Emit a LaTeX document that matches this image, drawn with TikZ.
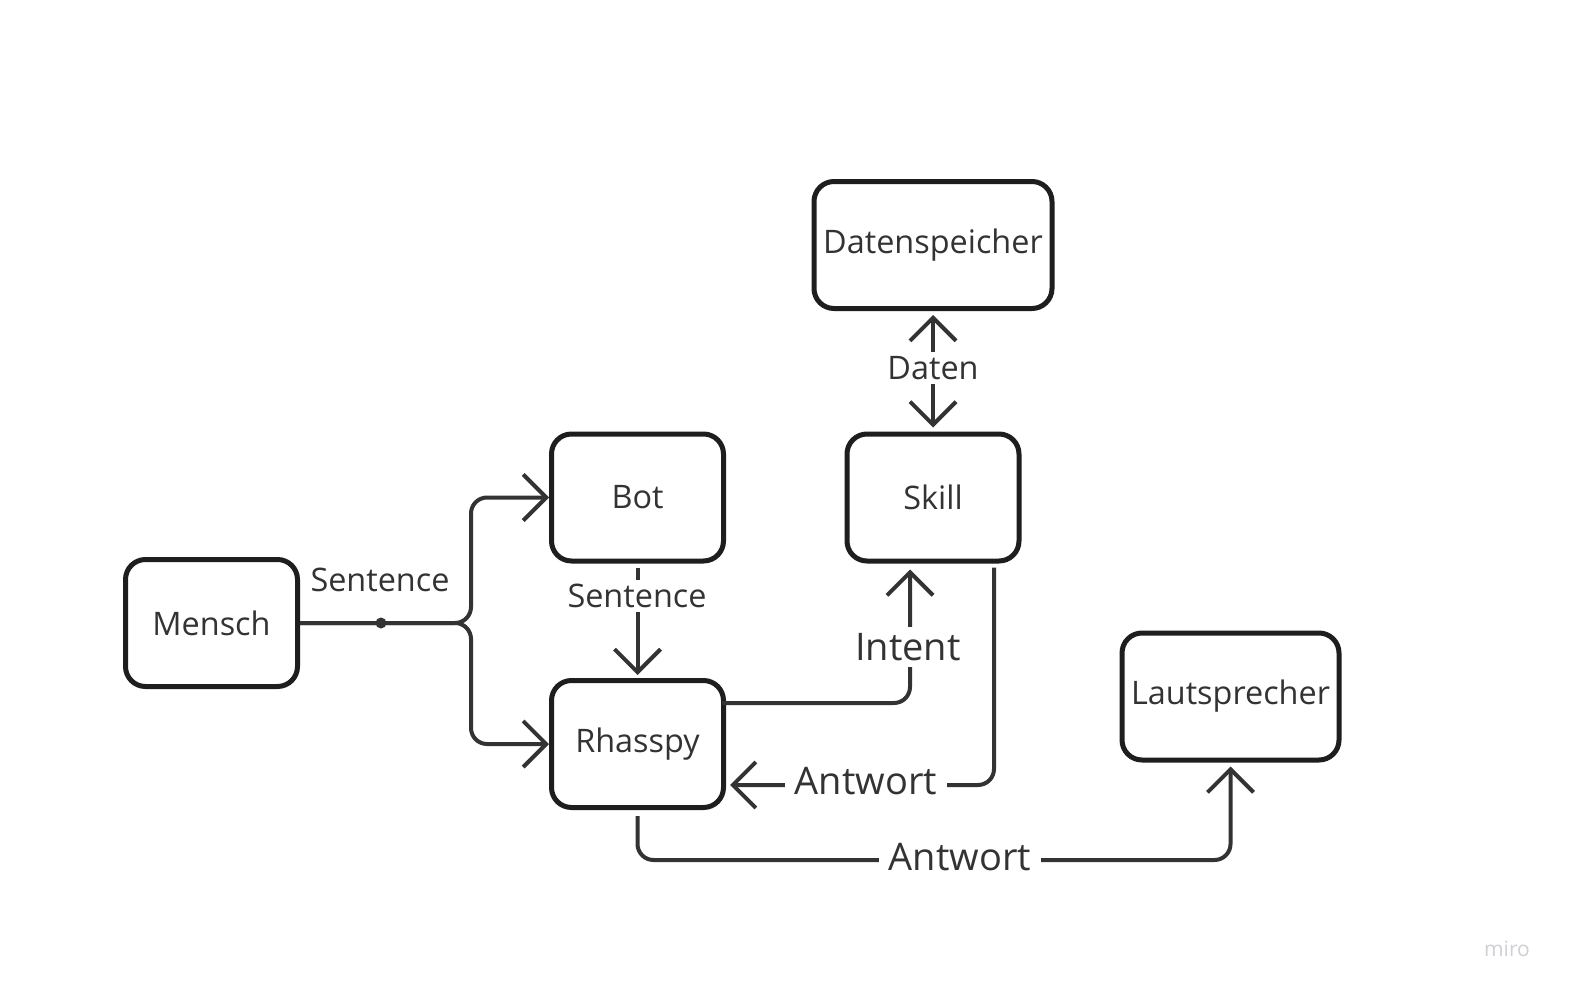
\documentclass[tikz,border=0pt]{standalone}
\usepackage{fontspec}
\setmainfont{Open Sans}
\usetikzlibrary{arrows.meta}
\definecolor{boxc}{HTML}{1E1E1E}
\definecolor{linec}{HTML}{333333}
\definecolor{txtc}{HTML}{333333}
\definecolor{miroc}{HTML}{CDD0D6}
\begin{document}
\begin{tikzpicture}[x=0.5pt,y=-0.5pt,
  box/.style={draw=boxc, line width=2.5pt, rounded corners=10pt, minimum width=86pt, minimum height=63.5pt,
    font=\fontsize{16.2}{19}\selectfont, text=txtc, inner sep=0pt},
  tipb/.tip={Straight Barb[length=11.5pt,width=23pt,line cap=butt,line join=miter]},
  conn/.style={draw=linec, line width=2pt, rounded corners=8pt, -tipb},
  lbl/.style={font=\fontsize{16.2}{19}\selectfont, text=txtc, fill=white, inner sep=2pt},
  biglbl/.style={font=\fontsize{19}{23}\selectfont, text=txtc, fill=white, inner ysep=3pt, inner xsep=5pt}]
\useasboundingbox (0,0) rectangle (1569,995);
\fill[white] (0,0) rectangle (1569,995);

\node[box] (mensch) at (211.5,623) {Mensch};
\node[box] (bot) at (637.5,497.5) {Bot};
\node[box] (rhasspy) at (637.5,744) {Rhasspy};
\node[box] (skill) at (933,497.5) {Skill};
\node[box, minimum width=119pt] (daten) at (933,245) {Datenspeicher};
\node[box, minimum width=108.5pt] (laut) at (1230.5,696.5) {Lautsprecher};

% Mensch fork
\coordinate (fork) at (471,623);
\draw[conn] (mensch.east) -- (fork) |- (bot.west);
\draw[conn] (mensch.east) -- (fork) |- (rhasspy.west);
\node[circle, fill=linec, inner sep=0pt, minimum size=5.5pt] (dot) at (381,623) {};
\node[lbl, fill=none] (s1) at (380,580) {Sentence};

% Bot -> Rhasspy
\draw[conn, shorten <=2pt, shorten >=1.5pt] (bot.south) -- (rhasspy.north);
\node[lbl] (s2) at (637,596) {Sentence};

% Rhasspy -> Skill (Intent)
\draw[conn, shorten >=3pt] ([yshift=20.5pt,xshift=-2pt]rhasspy.east) -| ([xshift=-11.5pt]skill.south);
\node[biglbl, inner xsep=3pt] (intent) at (908,647) {Intent};

% Skill -> Rhasspy (Antwort)
\draw[conn, shorten <=2pt, shorten >=2pt] ([xshift=30.5pt]skill.south) |- ([yshift=-20.5pt]rhasspy.east);
\node[biglbl] (antw1) at (866,781) {Antwort};

% Rhasspy -> Lautsprecher (Antwort)
\coordinate (ab) at (960,860);
\draw[conn, shorten <=3pt, shorten >=2pt] (rhasspy.south) |- (ab) -| (laut.south);
\node[biglbl] (antw2) at (960,857) {Antwort};

% Datenspeicher <-> Skill
\draw[conn, tipb-tipb, shorten <=2pt, shorten >=2pt] (daten.south) -- (skill.north);
\node[lbl] (dl) at (933,368) {Daten};

\node[text=miroc, font=\fontsize{10.5}{12}\selectfont] (miro) at (1507,949) {miro};
\end{tikzpicture}
\end{document}
